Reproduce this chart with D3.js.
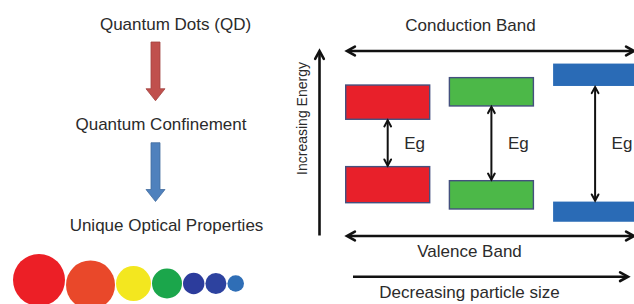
<!DOCTYPE html>
<html><head><meta charset="utf-8">
<script src="https://cdn.jsdelivr.net/npm/d3@7"></script>
<style>
html,body{margin:0;padding:0;background:#fff;}
text{font-family:"Liberation Sans",Arial,sans-serif;fill:#2b2b2b;}
</style></head>
<body><svg id="c" width="634" height="304"></svg>
<script>
// ---- data ----
const flowSteps = ["Quantum Dots (QD)", "Quantum Confinement", "Unique Optical Properties"];
const flowArrowColors = ["#c0504d", "#4f81bd"];
const sizeLabels = ["Large", "Medium", "Small"];
const bandColors = ["#e8202a", "#4cb848", "#2a6bb6"];
// energy levels (arbitrary units, 0..100)
const conductionTop = [81.6, 85.6, 93.2];
const conductionBottom = [63.1, 70.3, 81.1];
const valenceTop = [37.5, 29.9, 18.6];
const valenceBottom = [18.0, 14.6, 7.7];
const gapLabel = "Eg";
const axisLabels = {conduction: "Conduction Band", valence: "Valence Band", energy: "Increasing Energy", size: "Decreasing particle size"};
// quantum dot diameters (relative) and colours
const dotDiameters = [52, 49, 35, 30, 21.4, 21, 16.6];
const dotColors = ["#ec1f26", "#e9482a", "#f3e71f", "#1ba64b", "#2c3c9c", "#2d429f", "#2f6eb6"];

// ---- drawing ----
const svg = d3.select("#c");
const ink = "#111";

function vArrow(g, x1, y1, x2, y2, size, w) {
  const a = Math.atan2(y2 - y1, x2 - x1);
  const p = (da) => [x2 - size * Math.cos(a + da), y2 - size * Math.sin(a + da)];
  const p1 = p(0.5), p2 = p(-0.5);
  g.append("path").attr("d", `M${p1[0]},${p1[1]}L${x2},${y2}L${p2[0]},${p2[1]}`)
    .attr("fill", "none").attr("stroke", ink).attr("stroke-width", w)
    .attr("stroke-linejoin", "miter").attr("stroke-linecap", "round");
}
function line(g, x1, y1, x2, y2, w) {
  g.append("line").attr("x1", x1).attr("y1", y1).attr("x2", x2).attr("y2", y2)
    .attr("stroke", ink).attr("stroke-width", w);
}

// Left flow
const left = svg.append("g");
const flowY = d3.scalePoint().domain(flowSteps).range([29.5, 231]);
const flowX = [175.5, 161, 166.5];
left.selectAll("text.flow").data(flowSteps).join("text")
  .attr("class", "flow")
  .attr("x", (d, i) => flowX[i]).attr("y", d => flowY(d))
  .attr("text-anchor", "middle").attr("font-size", 17)
  .text(d => d);

const ax = 155.5;
flowArrowColors.forEach((col, i) => {
  const y0 = flowY(flowSteps[i]) + 12.5;
  const y1 = flowY(flowSteps[i + 1]) - 29.5;
  const sw = 4.5, hw = 9.5, hl = 12;
  const d = `M${ax - sw},${y0}L${ax + sw},${y0}L${ax + sw},${y1 - hl}L${ax + hw},${y1 - hl}L${ax},${y1}L${ax - hw},${y1 - hl}L${ax - sw},${y1 - hl}Z`;
  left.append("path").attr("d", d).attr("fill", col)
    .attr("stroke", d3.color(col).darker(0.5)).attr("stroke-width", 0.8);
});

// dots
const rScale = d3.scaleLinear().domain([0, 52]).range([0, 26]);
let cx = 13;
const dots = dotDiameters.map((dm, i) => {
  const r = rScale(dm);
  const c = cx + r;
  cx = c + r + 1;
  return {r, c, col: dotColors[i]};
});
left.selectAll("circle").data(dots).join("circle")
  .attr("cx", d => d.c).attr("cy", (d, i) => i === 0 ? 280 : (i === 1 ? 285 : 283.5))
  .attr("r", d => d.r).attr("fill", d => d.col);

// Right band diagram
const right = svg.append("g");
const y = d3.scaleLinear().domain([0, 100]).range([236, 51]);
const x = d3.scaleBand().domain(sizeLabels).range([345.7, 637.1]).paddingInner(0.19).paddingOuter(0);

const drawBars = (tops, bots) => {
  right.selectAll(null).data(sizeLabels).join("rect")
    .attr("x", d => x(d)).attr("width", x.bandwidth())
    .attr("y", (d, i) => y(tops[i])).attr("height", (d, i) => y(bots[i]) - y(tops[i]))
    .attr("fill", (d, i) => bandColors[i])
    .attr("stroke", (d, i) => i === 2 ? "none" : "#44507e").attr("stroke-width", 1.4);
};
drawBars(conductionTop, conductionBottom);
drawBars(valenceTop, valenceBottom);

sizeLabels.forEach((s, i) => {
  const xc = x(s) + x.bandwidth() / 2;
  const ya = y(conductionBottom[i]) + 1, yb = y(valenceTop[i]) - 1;
  line(right, xc, ya, xc, yb, 2);
  vArrow(right, xc, yb, xc, ya, 7, 2);
  vArrow(right, xc, ya, xc, yb, 7, 2);
  right.append("text").attr("x", xc + 16.5).attr("y", 149).attr("font-size", 17).text(gapLabel);
});

const bandL = 347, bandR = 634;
line(right, bandL + 1, y(100), bandR - 1, y(100), 2.6);
vArrow(right, bandR, y(100), bandL, y(100), 9, 2.6);
vArrow(right, bandL, y(100), bandR, y(100), 9, 2.6);
right.append("text").attr("x", 470.5).attr("y", 30.5).attr("text-anchor", "middle").attr("font-size", 17).text(axisLabels.conduction);

line(right, bandL + 1, y(0), bandR - 1, y(0), 2.6);
vArrow(right, bandR, y(0), bandL, y(0), 9, 2.6);
vArrow(right, bandL, y(0), bandR, y(0), 9, 2.6);
right.append("text").attr("x", 469.5).attr("y", 256.5).attr("text-anchor", "middle").attr("font-size", 17).text(axisLabels.valence);

const ex = 319.5;
line(right, ex, y(0) - 0.5, ex, y(100) + 1, 2.6);
vArrow(right, ex, y(0), ex, y(100), 9, 2.6);
right.append("text").attr("transform", `translate(307,118.5) rotate(-90)`)
  .attr("text-anchor", "middle").attr("font-size", 14).text(axisLabels.energy);

line(right, 353, 276.7, 626, 276.7, 2.6);
vArrow(right, 353, 276.7, 628, 276.7, 9, 2.6);
right.append("text").attr("x", 469.5).attr("y", 298.3).attr("text-anchor", "middle").attr("font-size", 17).text(axisLabels.size);
</script></body></html>
